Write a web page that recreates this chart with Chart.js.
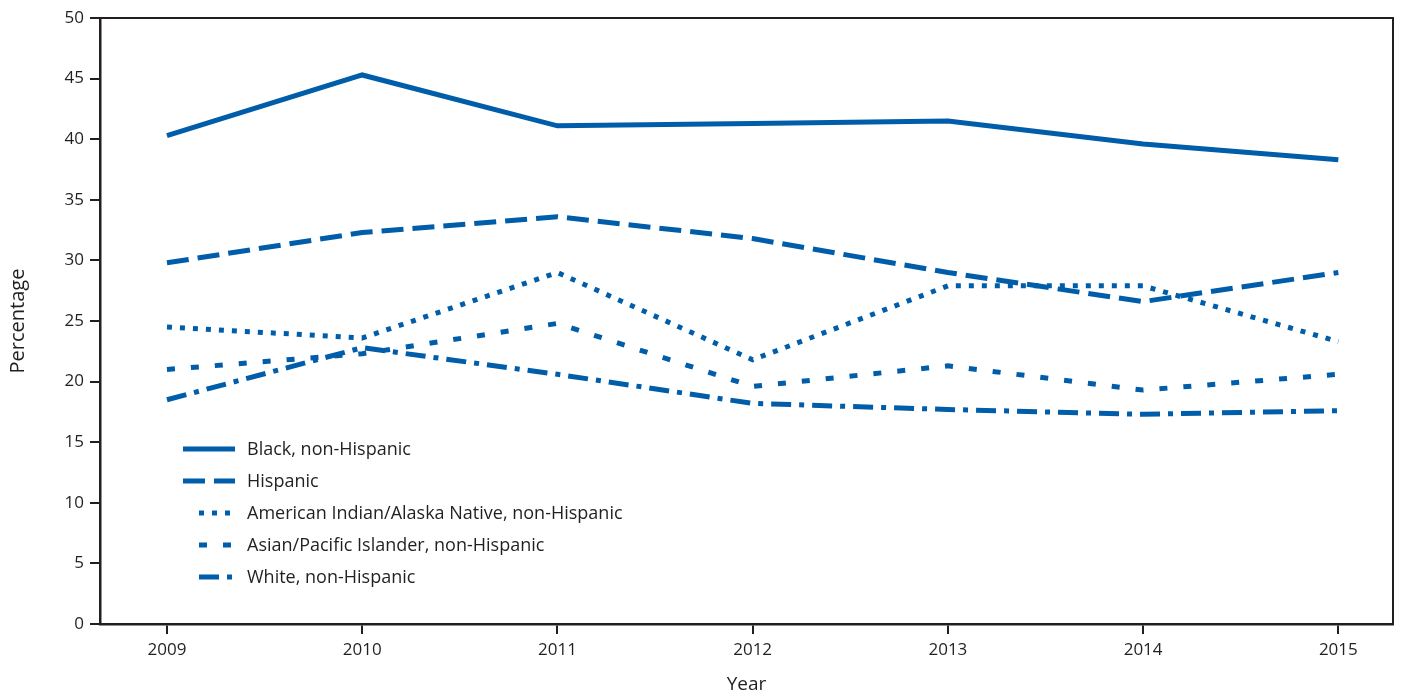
<!DOCTYPE html>
<html>
<head>
<meta charset="utf-8">
<script src="https://cdn.jsdelivr.net/npm/chart.js"></script>
<style>
  html, body { margin: 0; padding: 0; background: #fff; }
  #wrap { width: 1411px; height: 696px; position: relative; }
</style>
</head>
<body>
<div id="wrap"><canvas id="myChart"></canvas></div>
<script>
const years = [2009, 2010, 2011, 2012, 2013, 2014, 2015];
const seriesNames = [
  'Black, non-Hispanic',
  'Hispanic',
  'American Indian/Alaska Native, non-Hispanic',
  'Asian/Pacific Islander, non-Hispanic',
  'White, non-Hispanic',
];
const black = [40.3, 45.3, 41.1, 41.3, 41.5, 39.6, 38.3];
const hispanic = [29.8, 32.3, 33.6, 31.8, 29.0, 26.6, 29.0];
const aian = [24.5, 23.6, 29.0, 21.8, 27.9, 27.9, 23.3];
const api = [21.0, 22.3, 24.8, 19.6, 21.3, 19.3, 20.6];
const white = [18.5, 22.8, 20.6, 18.2, 17.7, 17.3, 17.6];
const yTicks = [0, 5, 10, 15, 20, 25, 30, 35, 40, 45, 50];

const BLUE = '#005da9';
const INK = '#231f20';
const FONT = '"Open Sans", "Noto Sans", sans-serif';
const dashes = [[], [22, 9], [5, 8], [8, 16], [20, 8, 5, 8]];
const values = [black, hispanic, aian, api, white];

// legend is drawn inside the plot, bottom-left
const legendInside = {
  id: 'legendInside',
  afterDatasetsDraw(chart) {
    const ctx = chart.ctx;
    const starts = [183, 183, 199, 199, 199];
    ctx.save();
    seriesNames.forEach((name, i) => {
      const y = 449 + i * 32;
      ctx.strokeStyle = BLUE;
      ctx.lineWidth = 5;
      ctx.lineCap = 'butt';
      ctx.setLineDash(dashes[i]);
      ctx.beginPath();
      ctx.moveTo(starts[i], y);
      ctx.lineTo(235, y);
      ctx.stroke();
      ctx.setLineDash([]);
      ctx.fillStyle = INK;
      ctx.font = '18px ' + FONT;
      ctx.textBaseline = 'middle';
      ctx.fillText(name, 247, y + 1);
    });
    ctx.restore();
  },
};

// top and right frame lines
const frame = {
  id: 'frame',
  afterDraw(chart) {
    const { ctx, chartArea: a } = chart;
    ctx.save();
    ctx.strokeStyle = INK;
    ctx.lineWidth = 2;
    ctx.beginPath();
    ctx.moveTo(a.left, a.top);
    ctx.lineTo(a.right, a.top);
    ctx.lineTo(a.right, a.bottom);
    ctx.stroke();
    ctx.restore();
  },
};

const datasets = seriesNames.map((name, i) => ({
  label: name,
  data: years.map((yr, j) => ({ x: yr, y: values[i][j] })),
  borderColor: BLUE,
  borderWidth: 5,
  borderDash: dashes[i],
  borderCapStyle: 'butt',
  pointRadius: 0,
  tension: 0,
  fill: false,
}));

new Chart(document.getElementById('myChart'), {
  type: 'line',
  data: { datasets },
  plugins: [legendInside, frame],
  options: {
    responsive: true,
    maintainAspectRatio: false,
    animation: false,
    layout: { padding: { top: 18, right: 18, left: 0, bottom: 0 } },
    plugins: { legend: { display: false }, tooltip: { enabled: false } },
    scales: {
      x: {
        type: 'linear',
        min: 2008.657,
        max: 2015.28,
        afterBuildTicks: (s) => { s.ticks = years.map((v) => ({ value: v })); },
        afterFit: (s) => { s.height = 72; },
        grid: { drawOnChartArea: false, drawTicks: true, tickLength: 10, color: INK, lineWidth: 2 },
        border: { display: true, color: INK, width: 2.5 },
        ticks: { color: INK, font: { family: FONT, size: 17 }, padding: 6, callback: (v) => String(v) },
        title: { display: true, text: 'Year', color: INK, font: { family: FONT, size: 19 }, padding: { top: 6, bottom: 0 } },
      },
      y: {
        min: 0,
        max: 50,
        afterBuildTicks: (s) => { s.ticks = yTicks.map((v) => ({ value: v })); },
        afterFit: (s) => { s.width = 100; },
        grid: { drawOnChartArea: false, drawTicks: true, tickLength: 10, color: INK, lineWidth: 2 },
        border: { display: true, color: INK, width: 2.5 },
        ticks: { color: INK, font: { family: FONT, size: 17 }, padding: 6 },
        title: { display: true, text: 'Percentage', color: INK, font: { family: FONT, size: 20 }, padding: { top: 6, bottom: 4 } },
      },
    },
  },
});
</script>
</body>
</html>
